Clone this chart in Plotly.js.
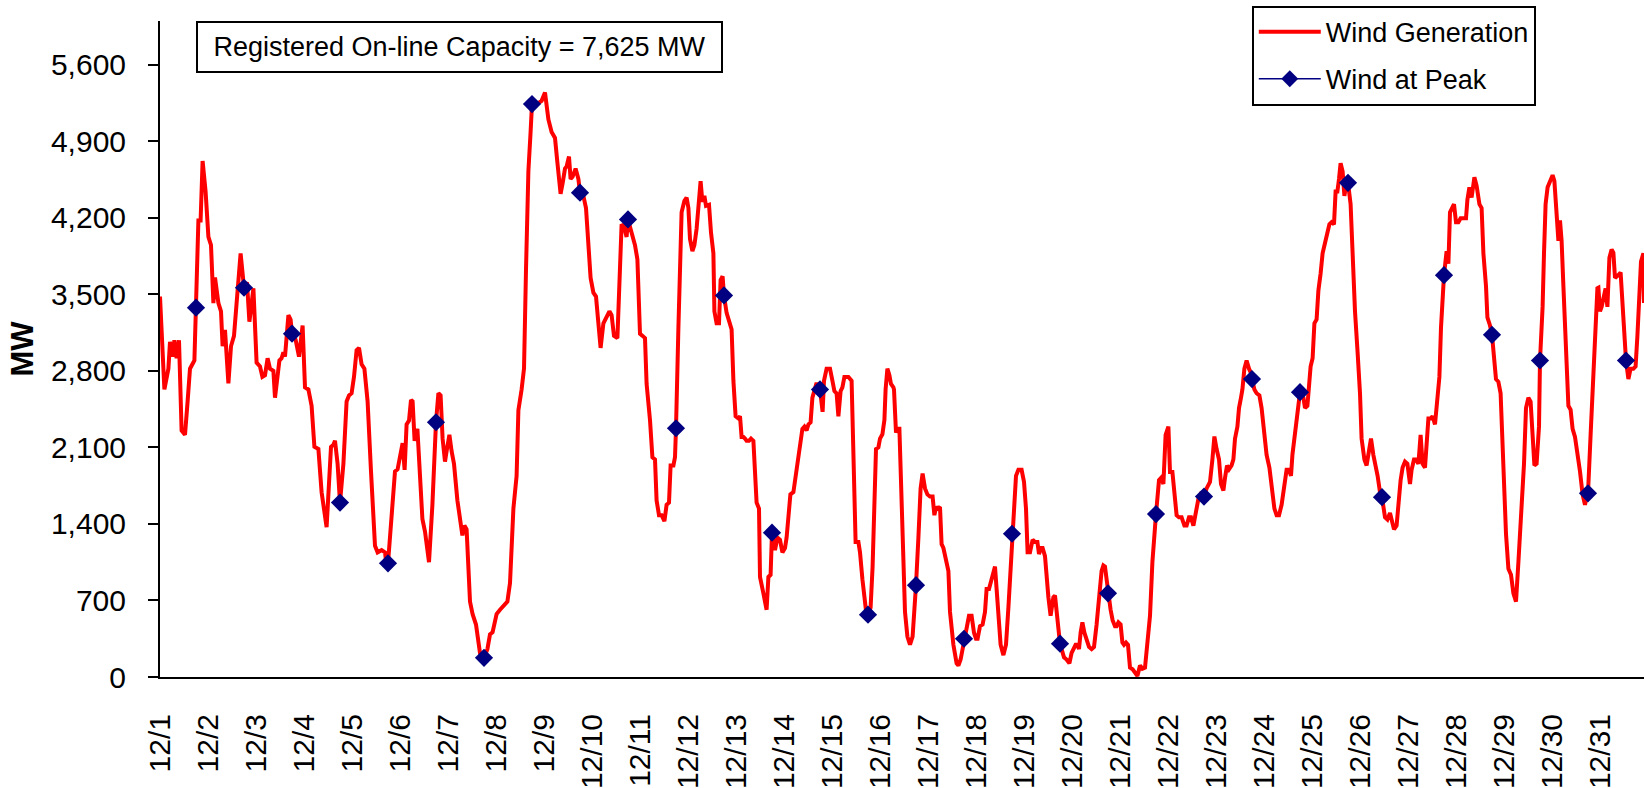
<!DOCTYPE html>
<html><head><meta charset="utf-8">
<script src="https://cdn.plot.ly/plotly-3.0.1.min.js"></script>
<style>html,body{margin:0;padding:0;background:#fff;} #chart{width:1644px;height:788px;}</style>
</head><body><div id="chart"></div>
<script>
const dayLabels = ['12/1','12/2','12/3','12/4','12/5','12/6','12/7','12/8','12/9','12/10','12/11','12/12','12/13','12/14','12/15','12/16','12/17','12/18','12/19','12/20','12/21','12/22','12/23','12/24','12/25','12/26','12/27','12/28','12/29','12/30','12/31'];
const dayStartHours = [0,24,48,72,96,120,144,168,192,216,240,264,288,312,336,360,384,408,432,456,480,504,528,552,576,600,624,648,672,696,720];
const yTicks = [0,700,1400,2100,2800,3500,4200,4900,5600];

// [hour since 12/1 00:00, MW]
const windGeneration = [
[0,3480],[2.2,2630],[4.2,2820],[5,3065],[6.2,2930],[7.2,3080],[8.3,2915],[9.5,3080],[10.8,2255],[12.5,2215],[13.8,2520],[15,2820],[17.2,2895],[18,3378],[19.2,4175],[20.3,4175],[21.3,4720],[22.8,4440],[24.2,4025],[25.5,3950],[26.7,3420],[27.5,3655],[29.2,3420],[30.5,3345],[31.3,3025],[32.5,3175],[34.2,2685],[35.5,3025],[37,3120],[38.3,3420],[40.3,3875],[42,3560],[43.5,3610],[44.7,3250],[46.7,3555],[48.3,2875],[50,2840],[51.2,2745],[52.5,2760],[53.8,2915],[55,2820],[56.7,2800],[57.5,2555],[59.7,2895],[60.8,2915],[61.7,2970],[62.5,2930],[64.2,3310],[65.3,3270],[66,3140],[67.8,3085],[69.5,2930],[71.3,3215],[72.5,2650],[74.2,2630],[75.8,2480],[77.2,2105],[79.2,2085],[80.8,1690],[83.3,1370],[85.5,2105],[86.7,2125],[87.5,2160],[88.8,1950],[90,1595],[91.7,1950],[93.3,2520],[94.5,2575],[95.8,2595],[97,2745],[98.3,2990],[99.5,3010],[100.8,2860],[102.2,2820],[103.8,2520],[105.5,1880],[107.5,1200],[108.8,1140],[110.8,1160],[112.5,1140],[113.5,990],[114,1040],[116.2,1520],[117.5,1880],[118.8,1900],[120.8,2120],
[121.3,2140],[122.3,1895],[123.3,2310],[124.5,2345],[125.5,2535],[126.3,2520],[127.3,2160],[128.7,2270],[130,1840],[131.2,1445],[132.5,1330],[134.5,1050],[136.2,1575],[137.5,2215],[138,2330],[139.2,2595],[140.3,2575],[141.3,2180],[142.5,1970],[143.3,2065],[144.7,2215],[145.8,2065],[147,1950],[148.7,1615],[150,1425],[151.2,1295],[152.2,1385],[153.3,1350],[155,690],[156.3,575],[158,480],[160,220],[161.7,125],[162,175],[163.7,255],[165,390],[166.3,410],[168.3,575],[170,615],[172,650],[173.7,690],[175,860],[176.7,1540],[178.3,1840],[179.2,2440],[180.8,2630],[182,2820],[183,3725],[184.2,4630],[185.3,4985],[186,5240],[187.5,5230],[189.2,5250],[190.8,5270],[192.5,5345],[194.2,5100],[195.8,4985],[197.5,4930],[198.7,4705],[200.3,4420],[201.3,4515],[202.5,4650],[203.3,4670],[204.5,4760],[205.3,4555],[206.3,4575],[207.8,4650],[209.2,4555],[210,4430],[211.7,4400],[213,4290],[214.2,3990],[215.3,3650],[216.7,3515],[218,3480],[219.2,3235],[220.3,3010],[221.7,3235],[223,3290],[224.7,3345],[225.8,3310],[227,3120],[228.7,3100],[229.7,3535],[230.8,4140],[232,4120],[233.3,4025],[234,4185],[235,4120],[236.2,4025],[237.5,3950],[238.7,3820],[240,3140],[241.3,3120],[242.5,3100],[243.3,2680],
[245,2350],[246.2,2010],[247.5,1990],[248.3,1615],[249.5,1480],[250.8,1480],[252.2,1425],[253.3,1575],[254.5,1595],[255.3,1935],[256.7,1935],[257.5,2010],[258,2275],[259.2,3195],[260,3950],[260.8,4250],[262.2,4355],[263.3,4385],[264.2,4290],[265,4005],[266.2,3895],[267.2,3950],[268.3,4100],[269.5,4365],[270.3,4535],[271.2,4345],[272.2,4400],[273,4310],[274.5,4320],[275.5,4065],[276.7,3875],[277.2,3345],[278.3,3235],[279.5,3235],[280.3,3630],[281.3,3665],[282,3490],[283.3,3330],[284.5,3270],[285.8,3180],[286.7,2710],[287.8,2385],[289.2,2365],[290,2385],[290.8,2195],[291.7,2195],[292.5,2180],[293.3,2160],[294.5,2160],[295.5,2180],[296.7,2160],[297.5,1840],[298.3,1595],[299.5,1540],[300,915],[301.7,765],[303.3,615],[304.2,915],[305.3,935],[306,1320],[307.5,1160],[308.7,1275],[310,1255],[311.2,1140],[312.5,1180],[313.3,1275],[314.2,1425],[315.2,1670],[316.7,1690],[317.5,1800],[318.8,1990],[320,2160],[321.2,2270],[322.2,2290],[323.3,2255],[324.2,2310],[325.3,2330],[326.2,2555],[327.5,2650],[328.3,2690],[329.2,2650],[330,2630],[331.3,2425],[332,2710],[333.3,2820],[335,2820],[336.2,2710],[337.2,2615],[338.3,2595],[339.2,2385],[340.3,2615],[341.2,2650],[342.2,2745],[344.2,2745],[345.8,2710],[346.7,2065],[347.2,1465],[347.8,1235],[349.2,1235],[350,1140],[351.2,895],[352.2,710],[353.3,560],[354,570],[355.3,635],[356.3,1010],[357.2,1500],[358,2085],[359.2,2100],[360,2180],[361.2,2220],[362.2,2350],[362.8,2630],[363.7,2820],[364.7,2760],[365.5,2680],[366.7,2650],
[367,2630],[368,2235],[368.7,2270],[369.7,2270],[370.8,1690],[371.7,1125],[372.5,595],[373.7,370],[375,295],[376.3,370],[377.5,635],[378,840],[379.2,1275],[380.3,1725],[381.3,1860],[382.5,1725],[383.7,1670],[385,1650],[386.3,1650],[387.2,1480],[388,1555],[388.8,1540],[390,1555],[390.8,1215],[391.7,1180],[393,1085],[394.2,970],[395,595],[396.7,295],[398.3,125],[399.2,105],[400.3,160],[401.7,295],[402,350],[403.3,480],[404.5,560],[405.8,560],[407,405],[408,350],[408.8,350],[410,465],[411.3,480],[412.5,595],[413.3,805],[414.5,805],[415.3,860],[416.3,935],[417.5,1010],[418.3,805],[419.2,560],[420.3,295],[421.7,200],[423,295],[424.2,635],[425.3,1010],[426,1310],[427.2,1650],[428,1840],[429.2,1895],[430.8,1895],[432,1785],[433,1540],[433.8,1140],[435,1140],[436.3,1255],[437.5,1235],[438.7,1235],[439.5,1125],[440.5,1180],[441.3,1180],[442.5,1105],[443.3,880],[444.2,730],[445.3,560],[446.7,730],[447.5,745],[448.3,560],[449.2,445],[450,305],[451.3,200],[452,180],[453.3,160],[454.7,125],[455.8,220],[456.7,255],[457.8,295],[458.7,295],[459.5,255],[460.3,405],[461.2,500],[462.2,405],[463.3,330],[464.5,275],[465.8,255],[467,275],[468.3,480],[469.7,745],[470.8,970],[471.7,1020],[472.5,1010],[473.3,895],[474,765],[475.3,615],[476.3,520],[477.5,465],[478.3,465],[479.2,500],[480.3,480],[481.2,315],[482,295],[483,315],[484,295],[485,85],[486.3,70],[487.5,40],[488.7,10],
[490,105],[491.2,75],[492.5,85],[493.8,295],[495,560],[496.2,1050],[497.2,1385],[498,1490],[499.5,1800],[500.5,1820],[501.7,1765],[502.8,2215],[504.2,2290],[505,1875],[506.2,1875],[507.2,1690],[508.3,1480],[509.5,1460],[510.8,1460],[512.2,1385],[513.3,1385],[514.5,1460],[515.5,1460],[516.7,1385],[517.5,1480],[518.3,1540],[519.2,1630],[520.8,1690],[522,1650],[523.3,1725],[525,1785],[526.2,1990],[527.2,2200],[528.3,2085],[529.5,1990],[530.5,1765],[531.7,1705],[532.5,1820],[533.5,1935],[534.5,1900],[535.8,1935],[536.7,1990],[537.5,2180],[538.7,2290],[539.5,2460],[540.5,2555],[541.2,2630],[542.2,2820],[543.3,2895],[544.5,2820],[545.5,2780],[546,2725],[547.2,2630],[548.3,2595],[549.7,2575],[550.8,2460],[552.2,2235],[553.3,2030],[554.7,1915],[555.8,1765],[557.2,1540],[558.3,1480],[559.5,1480],[560.8,1575],[562.2,1765],[563.3,1895],[564.5,1895],[565.5,1840],[566.2,2030],[567.2,2180],[568.3,2310],[569.5,2480],[570,2605],[571.7,2555],[572.5,2460],[573.7,2480],[574.5,2670],[575.3,2840],[576.3,2915],[577.2,3235],[578.3,3270],[579.2,3535],[580.3,3690],[581.3,3875],[582.5,3970],[583.7,4065],[584.7,4140],[585.8,4160],[587,4140],[587.8,4440],[588.7,4440],[589.5,4555],[590.3,4700],[591.3,4625],[592.2,4400],[593,4495],[594,4520],[595.3,4325],[596.3,3800],[597.5,3345],[598.8,2970],[600,2595],[600.8,2180],[602.2,1990],[603.3,1935],[604.5,2065],[605.5,2180],[606.7,2030],[607.8,1950],[608.8,1840],[610,1690],[611,1645],
[612.5,1460],[613.7,1440],[615,1500],[615.8,1440],[617,1350],[618.3,1385],[619.2,1595],[620.3,1800],[621.3,1915],[622.5,1970],[623.7,1950],[625,1765],[625.8,1895],[627,1990],[628,1990],[629.2,1950],[630.3,2215],[631.3,1950],[632.5,1915],[633.3,2160],[634.2,2365],[635.3,2365],[636.3,2385],[637.5,2310],[638.3,2500],[639.7,2745],[640.5,3195],[641.7,3575],[642,3675],[643.3,3895],[644.2,3780],[645,4250],[645.8,4290],[647,4325],[648,4160],[649.2,4160],[650.3,4195],[651.7,4195],[653,4195],[653.7,4365],[654.7,4480],[655.8,4385],[657.2,4570],[658.3,4495],[659.7,4325],[660.8,4290],[661.7,3875],[663,3575],[663.7,3290],[665,3215],[666,3130],[668,2725],[669.2,2700],[670.3,2595],[671.3,2065],[672,1575],[673,1310],[674.2,990],[675.5,935],[676.7,765],[678,690],[679.2,1050],[680.8,1500],[682,1950],[683,2460],[684.2,2555],[685.3,2520],[686.3,2215],[687.2,1935],[688.3,1950],[689.5,2290],[690,2895],[691.3,3385],[692,3875],[692.8,4325],[693.8,4480],[695,4535],[696.3,4590],[697.2,4535],[698.3,4290],[699.2,3990],[700,4175],[700.8,3990],[701.7,3575],[702.8,3120],[704.2,2480],[705.3,2445],[706.3,2270],[707.5,2195],[708.7,2065],[710,1880],[711.3,1670],[712.5,1575],[713.3,1650],[714,1680],[715.3,2215],[716.3,2595],[717.5,3120],[718.7,3555],[719.2,3560],[720,3345],[720.8,3385],[721.7,3460],[722.8,3555],[723.7,3385],[724.7,3835],[725.8,3910],[726.7,3880],[727.5,3650],[728.7,3665],[729.7,3685],[730.3,3700],[731.3,3420],[732.5,3085],[733,2895],[734.2,2725],[735.3,2820],[736.7,2820],[737.8,2840],[738.7,3120],[739.7,3575],[740.5,3800],[741.7,3875],[742,3420]
];

const peakHours = [18,42,66,90,114,138,162,186,210,234,258,282,306,330,354,378,402,426,450,474,498,522,546,570,594,611,642,666,690,714,733];
const peakMW = [3378,3560,3140,1595,1040,2330,175,5240,4430,4185,2275,3490,1320,2630,570,840,350,1310,305,765,1490,1650,2725,2605,4520,1645,3675,3130,2895,1680,2895];

const FONT = 'Arial, "Liberation Sans", sans-serif';

const traces = [
  {
    x: windGeneration.map(p => p[0]),
    y: windGeneration.map(p => p[1]),
    type: 'scatter', mode: 'lines', name: 'Wind Generation',
    line: {color: '#FF0000', width: 4},
    legendgroup: 'gen', hoverinfo: 'skip'
  },
  {
    x: peakHours, y: peakMW,
    type: 'scatter', mode: 'markers', name: 'Wind at Peak',
    marker: {symbol: 'diamond', size: 14, color: '#000080'},
    legendgroup: 'peak', showlegend: false
  },
  {
    x: [null], y: [null],
    type: 'scatter', mode: 'lines+markers', name: 'Wind at Peak',
    line: {color: '#000080', width: 1.5},
    marker: {symbol: 'diamond', size: 13, color: '#000080'},
    legendgroup: 'peak'
  }
];

const layout = {
  width: 1644, height: 788,
  margin: {l: 160, r: 0, t: 21, b: 111, pad: 0},
  paper_bgcolor: '#ffffff', plot_bgcolor: '#ffffff',
  font: {family: FONT, color: '#000000'},
  showlegend: true,
  legend: {
    x: 0.7357, y: 1.0235, xanchor: 'left', yanchor: 'top',
    bgcolor: '#ffffff', bordercolor: '#000000', borderwidth: 2,
    font: {family: FONT, size: 27, color: '#000000'},
    itemwidth: 62, tracegroupgap: 9, traceorder: 'grouped',
    entrywidth: 290
  },
  xaxis: {
    range: [0, 742],
    tickvals: dayStartHours, ticktext: dayLabels,
    tickangle: -90,
    tickfont: {family: FONT, size: 30, color: '#000000'},
    ticks: '', ticklabelstandoff: 23,
    showline: true, linecolor: '#000000', linewidth: 2,
    showgrid: false, zeroline: false, fixedrange: true
  },
  yaxis: {
    range: [0, 6000],
    tickvals: yTicks, tickformat: ',d',
    tickfont: {family: FONT, size: 30, color: '#000000'},
    ticks: 'outside', ticklen: 10, tickwidth: 2, tickcolor: '#000000',
    ticklabelstandoff: 16,
    showline: true, linecolor: '#000000', linewidth: 2,
    showgrid: false, zeroline: false, fixedrange: true,
    title: {text: '<b>MW</b>', font: {family: FONT, size: 31, color: '#000000'}, standoff: 8}
  },
  annotations: [{
    text: 'Registered On-line Capacity = 7,625 MW',
    xref: 'paper', yref: 'paper', x: 0.2018, y: 0.9604,
    xanchor: 'center', yanchor: 'middle', showarrow: false,
    font: {family: FONT, size: 27, color: '#000000'},
    bgcolor: '#ffffff', bordercolor: '#000000', borderwidth: 2, borderpad: 0,
    width: 523, height: 48
  }]
};

Plotly.newPlot('chart', traces, layout, {displayModeBar: false, staticPlot: true});
</script>
</body></html>
